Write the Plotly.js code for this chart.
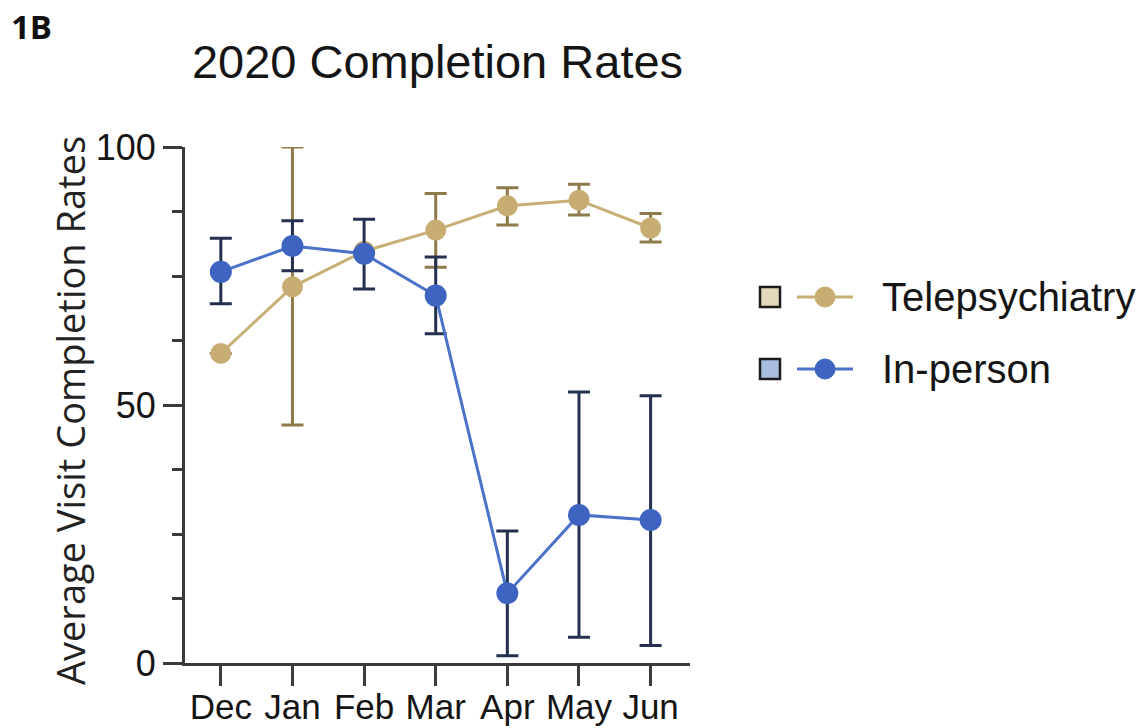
<!DOCTYPE html>
<html>
<head>
<meta charset="utf-8">
<script src="https://cdn.plot.ly/plotly-3.0.1.min.js"></script>
<style>html,body{margin:0;padding:0;background:#fff;}#chart{width:1143px;height:728px;}</style>
</head>
<body>
<div id="chart"></div>
<script>
// Data
const months = ["Dec", "Jan", "Feb", "Mar", "Apr", "May", "Jun"];
const teleMean = [60.0, 72.9, 79.8, 83.9, 88.6, 89.7, 84.3];
const teleErrPlus = [0, 27.1, 0, 7.1, 3.5, 3.1, 2.8];
const teleErrMinus = [0, 26.8, 0, 7.2, 3.7, 2.9, 2.7];
const inMean = [75.8, 80.8, 79.3, 71.2, 13.5, 28.7, 27.7];
const inErrPlus = [6.5, 4.9, 6.7, 7.5, 12.1, 23.8, 24.1];
const inErrMinus = [6.2, 4.8, 6.8, 7.4, 12.1, 23.7, 24.3];
const seriesNames = ["Telepsychiatry", "In-person"];

const tanLine = "#c8af76", tanMarker = "#c7ad72", tanErr = "#8f7a4b", tanBox = "#e3d8b9";
const blueLine = "#4a72c8", blueMarker = "#3d64c0", blueErr = "#24304f", blueBox = "#a9bde0";

const traces = [
  {
    x: months, y: teleMean, name: seriesNames[0], type: "scatter", mode: "lines+markers",
    line: {color: tanLine, width: 3},
    marker: {color: tanMarker, size: 21},
    error_y: {type: "data", symmetric: false, array: teleErrPlus, arrayminus: teleErrMinus,
              color: tanErr, thickness: 3, width: 11},
    showlegend: false
  },
  {
    x: months, y: inMean, name: seriesNames[1], type: "scatter", mode: "lines+markers",
    line: {color: blueLine, width: 3},
    marker: {color: blueMarker, size: 22},
    error_y: {type: "data", symmetric: false, array: inErrPlus, arrayminus: inErrMinus,
              color: blueErr, thickness: 3, width: 11},
    showlegend: false
  }
];

// manual legend (paper coords)
const W = 505, H = 516;
function px(x) { return (x - 185) / W; }
function py(y) { return (663 - y) / H; }
const rows = [297, 369];
const boxCols = [tanBox, blueBox];
const lineCols = [tanLine, blueLine];
const dotCols = [tanMarker, blueMarker];
const shapes = [];
const annotations = [];
rows.forEach((ry, i) => {
  shapes.push({type: "rect", xref: "paper", yref: "paper",
    x0: px(760), x1: px(780), y0: py(ry + 10), y1: py(ry - 10),
    fillcolor: boxCols[i], line: {color: "#1a1a1a", width: 2.5}});
  shapes.push({type: "line", xref: "paper", yref: "paper",
    x0: px(797), x1: px(853), y0: py(ry), y1: py(ry),
    line: {color: lineCols[i], width: 3}});
  shapes.push({type: "circle", xref: "paper", yref: "paper",
    x0: px(815), x1: px(835), y0: py(ry + 10), y1: py(ry - 10),
    fillcolor: dotCols[i], line: {color: dotCols[i], width: 1}});
  annotations.push({xref: "paper", yref: "paper", x: px(880), y: py(ry),
    xanchor: "left", yanchor: "middle", text: seriesNames[i], showarrow: false,
    font: {family: "Liberation Sans, Arial, sans-serif", size: 40, color: "#151515"}});
});
annotations.push({xref: "paper", yref: "paper", x: px(70), y: py(411),
  xanchor: "center", yanchor: "middle", textangle: -90, showarrow: false,
  text: "Average Visit Completion Rates",
  font: {family: "Open Sans, sans-serif", size: 38, color: "#222"}});
annotations.push({xref: "paper", yref: "paper", x: px(9), y: py(26),
  xanchor: "left", yanchor: "middle", showarrow: false, text: "<b>1B</b>",
  font: {family: "Open Sans, sans-serif", size: 33, color: "#111"}});

const layout = {
  width: 1143, height: 728, autosize: false,
  margin: {l: 185, r: 453, t: 147, b: 65, pad: 0},
  paper_bgcolor: "#fff", plot_bgcolor: "#fff",
  font: {family: "Liberation Sans, Arial, sans-serif", color: "#1a1a1a"},
  title: {text: "2020 Completion Rates", xref: "paper", x: 0.5, xanchor: "center",
          yref: "container", y: 1 - 62 / 728, yanchor: "middle",
          font: {family: "Liberation Sans, Arial, sans-serif", size: 47, color: "#151515"}},
  xaxis: {type: "category", range: [-0.5, 6.55], showline: true, linecolor: "#3a3a3a", linewidth: 3,
          ticks: "outside", ticklen: 20, tickwidth: 3, tickcolor: "#3a3a3a",
          ticklabelstandoff: -9,
          showgrid: false, zeroline: false,
          tickfont: {size: 35, color: "#151515"}, fixedrange: true},
  yaxis: {range: [0, 100], showline: true, linecolor: "#3a3a3a", linewidth: 3,
          ticks: "outside", ticklen: 19, tickwidth: 3, tickcolor: "#3a3a3a",
          tickvals: [0, 50, 100], showgrid: false, zeroline: false,
          minor: {dtick: 12.5, ticks: "outside", ticklen: 10, tickwidth: 3, tickcolor: "#3a3a3a", showgrid: false},
          tickfont: {size: 36, color: "#151515"}, fixedrange: true},
  shapes: shapes,
  annotations: annotations,
  showlegend: false
};

Plotly.newPlot("chart", traces, layout, {displayModeBar: false, staticPlot: true});
</script>
</body>
</html>
